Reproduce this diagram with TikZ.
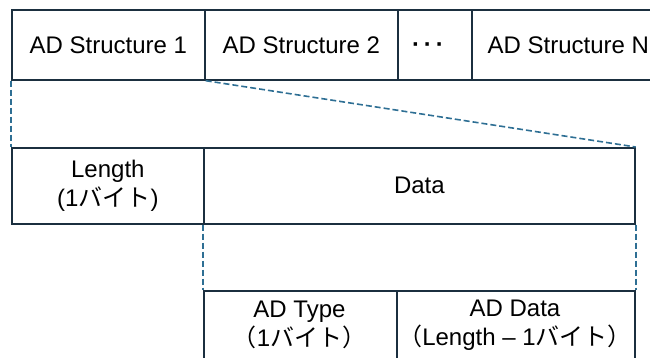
\documentclass[tikz,border=0pt]{standalone}
\usepackage{fontspec}
\setmainfont{Liberation Sans}
\newfontfamily\jp{Noto Sans CJK JP}
\definecolor{edge}{HTML}{1B2F3F}
\definecolor{dash}{HTML}{2E6F94}
\begin{document}
\begin{tikzpicture}[x=1pt,y=-1pt,
  txt/.style={font=\fontsize{24}{29}\selectfont,align=center,text=black},
  cell/.style={draw=edge,line width=1.7pt,rectangle,anchor=north west,inner sep=0pt,txt},
  link/.style={draw=dash,line width=1.6pt,dash pattern=on 6pt off 3pt}]
\useasboundingbox (0,0) rectangle (650,358);
\begin{scope}
\clip (0,0) rectangle (650,358);
\node[cell,minimum width=193pt,minimum height=70pt] (s1) at (11,9) {\raisebox{-2pt}{AD Structure 1}};
\node[cell,minimum width=193pt,minimum height=70pt] (s2) at (204,9) {\raisebox{-2pt}{AD Structure 2}};
\node[cell,minimum width=74pt,minimum height=70pt] (sd) at (397,9) {};
\node[txt] (sdt) at (428,48) {\textbf{·\,·\,·}};
\node[cell,minimum width=193pt,minimum height=70pt] (sn) at (471,9) {\raisebox{-2pt}{AD Structure N}};
\node[cell,minimum width=192pt,minimum height=76pt] (len) at (11,147) {Length\\(1{\jp バイト})};
\node[cell,minimum width=431pt,minimum height=76pt] (dat) at (203,147) {Data};
\node[cell,minimum width=193pt,minimum height=80pt] (typ) at (203,290) {};
\node[cell,minimum width=238pt,minimum height=80pt] (add) at (396,290) {};
\node[txt,anchor=center] (typt) at (299.5,325) {AD Type\\{\jp （}1{\jp バイト）}};
\node[txt,anchor=center] (addt) at (515,325) {AD Data\\{\jp （}Length – 1{\jp バイト）}};
\draw[link] (s1.south west) -- (len.north west);
\draw[link] (s1.south east) -- (dat.north east);
\draw[link] (dat.south west) -- (typ.north west);
\draw[link] (dat.south east) -- (add.north east);
\end{scope}
\end{tikzpicture}
\end{document}
